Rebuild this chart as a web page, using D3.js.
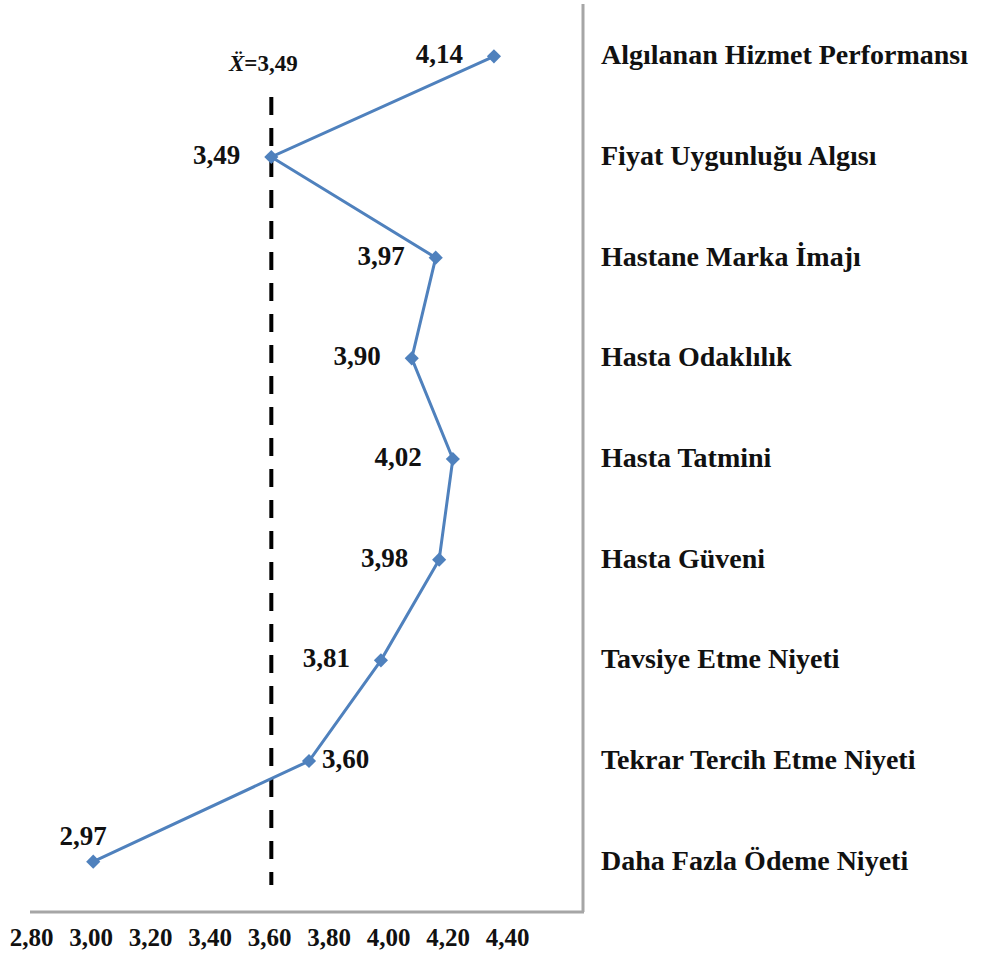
<!DOCTYPE html>
<html>
<head>
    <meta charset="utf-8">
    <title>Ortalama puanlar</title>
    <script src="https://d3js.org/d3.v7.min.js"></script>
    <style>
        body { margin: 0; background: #fff; }
        text { font-family: "Liberation Serif", "Times New Roman", serif; font-weight: bold; fill: #111; }
    </style>
</head>
<body>
<div id="chart"></div>
<script>
// categories, top to bottom
var categories = ["Algılanan Hizmet Performansı", "Fiyat Uygunluğu Algısı", "Hastane Marka İmajı",
    "Hasta Odaklılık", "Hasta Tatmini", "Hasta Güveni", "Tavsiye Etme Niyeti",
    "Tekrar Tercih Etme Niyeti", "Daha Fazla Ödeme Niyeti"]
var values = [4.14, 3.49, 3.97, 3.90, 4.02, 3.98, 3.81, 3.60, 2.97]
var meanValue = 3.49
var tickValues = [2.80, 3.00, 3.20, 3.40, 3.60, 3.80, 4.00, 4.20, 4.40]

var width = 982, height = 960
var fmt = function(v) { return d3.format(".2f")(v).replace(".", ",") }

var svg = d3.select("#chart").append("svg")
    .attr("width", width)
    .attr("height", height)

var x = d3.scaleLinear().domain([2.8, 4.4]).range([35, 583])
var y = d3.scaleBand().domain(categories).range([6, 912])
var yc = function(c) { return y(c) + y.bandwidth() / 2 }

// plot area border (right + bottom only)
svg.append("line")
    .attr("x1", 583).attr("x2", 583).attr("y1", 4).attr("y2", 912)
    .style("stroke", "#a6a6a6").style("stroke-width", 3)
svg.append("line")
    .attr("x1", 30).attr("x2", 584).attr("y1", 912).attr("y2", 912)
    .style("stroke", "#a6a6a6").style("stroke-width", 3)

// tick labels sit a bit narrower than the plot in the original
var xt = d3.scaleLinear().domain([2.8, 4.4]).range([31, 507])
svg.append("g")
    .attr("transform", "translate(0,925)")
    .call(d3.axisBottom(xt).tickValues(tickValues).tickSize(0).tickFormat(fmt))
    .call(function(g) { g.select(".domain").remove() })
    .selectAll("text")
    .style("font-size", "25px")
    .style("font-family", "Liberation Serif, serif")
    .style("font-weight", "bold")
    .style("fill", "#111")

// mean line
svg.append("line")
    .attr("x1", x(meanValue)).attr("x2", x(meanValue))
    .attr("y1", 97).attr("y2", 885)
    .style("stroke", "#000")
    .style("stroke-width", 4)
    .style("stroke-dasharray", "18,13")

var meanLabel = svg.append("text")
    .attr("x", x(meanValue) - 8)
    .attr("y", 71)
    .attr("text-anchor", "middle")
    .style("font-size", "23px")
meanLabel.append("tspan").style("font-style", "italic").text("Ẍ")
meanLabel.append("tspan").text("=" + fmt(meanValue))

// series line
var pts = categories.map(function(c, i) { return {cat: c, v: values[i]} })
svg.append("path")
    .datum(pts)
    .attr("d", d3.line().x(function(d) { return x(d.v) }).y(function(d) { return yc(d.cat) }))
    .style("fill", "none")
    .style("stroke", "#4f81bd")
    .style("stroke-width", 3)

svg.selectAll(".marker")
    .data(pts)
    .enter()
    .append("path")
    .attr("class", "marker")
    .attr("d", d3.symbol().type(d3.symbolSquare).size(100))
    .attr("transform", function(d) { return "translate(" + x(d.v) + "," + yc(d.cat) + ") rotate(45)" })
    .style("fill", "#4f81bd")

// value labels: left of point, except the last two
svg.selectAll(".vlabel")
    .data(pts)
    .enter()
    .append("text")
    .attr("class", "vlabel")
    .style("font-size", "27px")
    .attr("x", function(d, i) {
        if (i == 7) return x(d.v) + 13
        if (i == 8) return x(d.v) - 10
        return x(d.v) - 31
    })
    .attr("y", function(d, i) {
        if (i == 8) return yc(d.cat) - 17
        return yc(d.cat) + 7
    })
    .attr("text-anchor", function(d, i) { return i == 7 ? "start" : (i == 8 ? "middle" : "end") })
    .text(function(d) { return fmt(d.v) })

// category labels on the right
svg.selectAll(".clabel")
    .data(categories)
    .enter()
    .append("text")
    .attr("class", "clabel")
    .attr("x", 601)
    .attr("y", function(d) { return yc(d) + 8 })
    .style("font-size", "28px")
    .text(function(d) { return d })
</script>
</body>
</html>
